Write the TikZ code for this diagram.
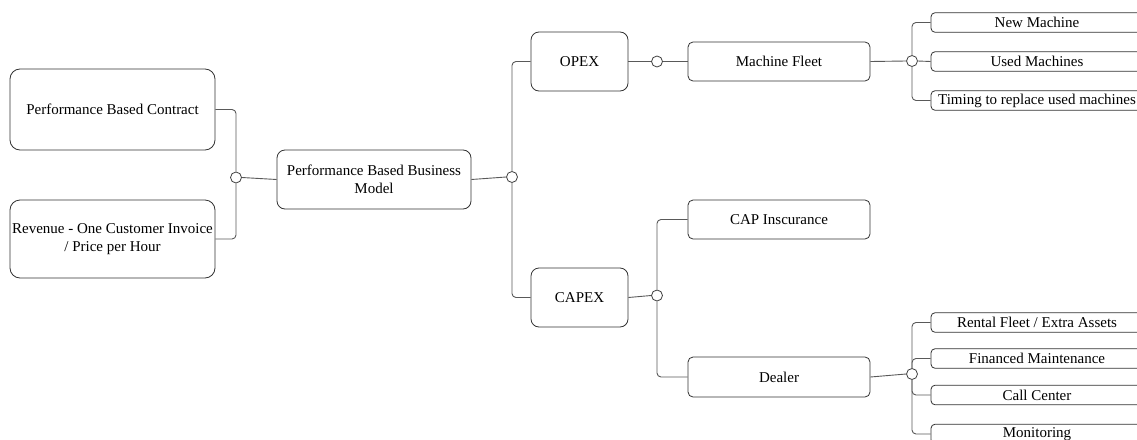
\documentclass[tikz,border=0pt]{standalone}
\usepackage{fontspec}
\setmainfont{Liberation Serif}
\begin{document}
\begin{tikzpicture}[x=1pt,y=-1pt,
  font=\fontsize{15}{17.5}\selectfont,
  box/.style={draw=black!80, line width=0.8pt, fill=white, rectangle, align=center, inner sep=0pt},
  bigbox/.style={box, rounded corners=10pt},
  midbox/.style={box, rounded corners=8pt},
  smallbox/.style={box, rounded corners=5pt},
  leafbox/.style={box, rounded corners=4pt, minimum width=212pt, minimum height=19.5pt},
  joint/.style={circle, draw=black!75, line width=0.8pt, fill=white, minimum size=11pt, inner sep=0pt},
  link/.style={draw=black!65, line width=0.9pt, rounded corners=4pt}]
\useasboundingbox (0,0) rectangle (1137,439);
\clip (0,0) rectangle (1137,439);

% root level
\node[bigbox, minimum width=205pt, minimum height=81pt] (pbc) at (112.5,109.5) {Performance Based Contract};
\node[bigbox, minimum width=205pt, minimum height=78pt] (rev) at (112.5,239) {Revenue - One Customer Invoice\\/ Price per Hour};
\node[midbox, minimum width=194pt, minimum height=59pt] (pbbm) at (374,179.5) {Performance Based Business\\Model};

% cost branches
\node[midbox, minimum width=97pt, minimum height=59pt] (opex) at (579.5,61.5) {OPEX};
\node[midbox, minimum width=97pt, minimum height=59pt] (capex) at (579.5,297.5) {CAPEX};
\node[smallbox, minimum width=182pt, minimum height=39pt] (fleet) at (779,61.5) {Machine Fleet};
\node[smallbox, minimum width=182pt, minimum height=39pt] (cap) at (779,219.5) {CAP Inscurance};
\node[smallbox, minimum width=182pt, minimum height=40pt] (dealer) at (779,377) {Dealer};

% fleet leaves
\node[leafbox] (newm) at (1037,22.5) {New Machine};
\node[leafbox] (usedm) at (1037,61.5) {Used Machines};
\node[leafbox] (timing) at (1037,100.5) {Timing to replace used machines};

% dealer leaves
\node[leafbox] (rental) at (1037,322.5) {Rental Fleet / Extra Assets};
\node[leafbox] (finm) at (1037,358.5) {Financed Maintenance};
\node[leafbox] (callc) at (1037,395) {Call Center};
\node[leafbox] (monit) at (1037,434) {Monitoring};

% junction circles
\node[joint] (j1) at (236,177.5) {};
\node[joint] (j2) at (512,177) {};
\node[joint] (j3) at (657,61.5) {};
\node[joint] (j4) at (912,61) {};
\node[joint] (j5) at (657,295.5) {};
\node[joint] (j6) at (912,374) {};

% connectors
\draw[link] (pbc.east) -| (j1.north);
\draw[link] (rev.east) -| (j1.south);
\draw[link] (j1.east) -- (pbbm.west);
\draw[link] (pbbm.east) -- (j2.west);
\draw[link] (j2.north) |- (opex.west);
\draw[link] (j2.south) |- (capex.west);
\draw[link] (opex.east) -- (j3.west);
\draw[link] (j3.east) -- (fleet.west);
\draw[link] (fleet.east) -- (j4.west);
\draw[link] (j4.north) |- (newm.west);
\draw[link] (j4.east) -- (usedm.west);
\draw[link] (j4.south) |- (timing.west);
\draw[link] (capex.east) -- (j5.west);
\draw[link] (j5.north) |- (cap.west);
\draw[link] (j5.south) |- (dealer.west);
\draw[link] (dealer.east) -- (j6.west);
\draw[link] (j6.north) |- (rental.west);
\draw[link] (j6.north) |- (finm.west);
\draw[link] (j6.south) |- (callc.west);
\draw[link] (j6.south) |- (monit.west);
\end{tikzpicture}
\end{document}
